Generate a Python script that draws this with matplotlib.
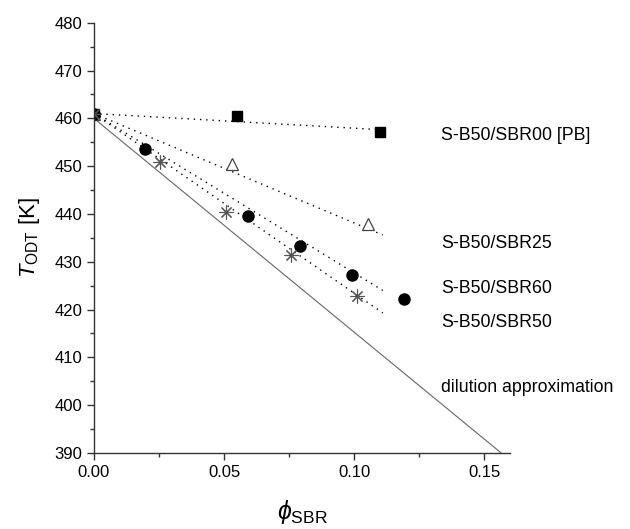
import numpy as np
import matplotlib
matplotlib.use("Agg")
import matplotlib.pyplot as plt

plt.rcParams['font.family'] = ['Liberation Sans', 'DejaVu Sans']
plt.rcParams['mathtext.fontset'] = 'custom'
plt.rcParams['mathtext.rm'] = 'Liberation Sans'
plt.rcParams['mathtext.it'] = 'Liberation Sans:italic'

# data
phi_pb = [0.0, 0.055, 0.110]
t_pb = [461.0, 460.5, 457.1]

phi_25 = [0.0, 0.053, 0.1055]
t_25 = [461.0, 450.4, 437.9]

phi_60 = [0.0, 0.0196, 0.0594, 0.0792, 0.0991, 0.119]
t_60 = [461.0, 453.6, 439.6, 433.3, 427.2, 422.3]

phi_50 = [0.0, 0.0254, 0.0508, 0.0756, 0.101]
t_50 = [461.0, 450.9, 440.5, 431.4, 422.9]

# fitted lines (start / end)
fit_x = [0.0, 0.111]
fit_pb = [461.0, 457.6]
fit_25 = [461.0, 435.6]
fit_60 = [461.0, 424.0]
fit_50 = [461.0, 419.3]

dil_x = [0.0, 0.1565]
dil_t = [460.0, 390.0]

labels = ['S-B50/SBR00 [PB]', 'S-B50/SBR25', 'S-B50/SBR60', 'S-B50/SBR50',
          'dilution approximation']
label_y = [456.5, 433.9, 424.5, 417.2, 403.8]

fig = plt.figure(figsize=(6.3, 5.29), dpi=100)
ax = fig.add_axes([0.149, 0.1437, 0.661, 0.8134])

# lines
for fy in [fit_pb, fit_25, fit_60, fit_50]:
    ax.plot(fit_x, fy, color='black', lw=1.0, ls=(0, (1, 3.5)))
ax.plot(dil_x, dil_t, color='#666666', lw=0.8)

# markers
ax.plot(phi_pb, t_pb, 's', color='black', ms=6.5, ls='none')
ax.plot(phi_25, t_25, '^', mfc='white', mec='#444444', mew=0.9, ms=9, ls='none')
ax.plot(phi_60, t_60, 'o', color='black', ms=8, ls='none')
ax.plot(phi_50, t_50, marker=(8, 2, 0), color='#555555', mew=0.8, ms=10, ls='none')

for lab, yy in zip(labels, label_y):
    ax.text(0.1333, yy, lab, fontsize=12.8, va='center', ha='left')

ax.set_xlim(0, 0.16)
ax.set_ylim(390, 480)
ax.set_xticks([0.0, 0.05, 0.10, 0.15])
ax.set_xticklabels(['0.00', '0.05', '0.10', '0.15'])
ax.set_xticks([0.025, 0.075, 0.125], minor=True)
ax.set_yticks(np.arange(390, 481, 10))
ax.set_yticks(np.arange(395, 480, 10), minor=True)

ax.spines['top'].set_visible(False)
ax.spines['right'].set_visible(False)
for s in ['left', 'bottom']:
    ax.spines[s].set_color('#333333')
    ax.spines[s].set_linewidth(1.0)
ax.tick_params(which='major', direction='out', length=5, width=1.0,
               labelsize=12, color='#333333')
ax.tick_params(which='minor', direction='out', length=3, width=1.0,
               color='#333333')

ax.set_ylabel(r'$T_{\mathrm{ODT}}$ [K]', fontsize=16, labelpad=9)
ax.set_xlabel(r'$\phi_{\mathrm{SBR}}$', fontsize=18, labelpad=13)

fig.savefig('out.png', dpi=100)
